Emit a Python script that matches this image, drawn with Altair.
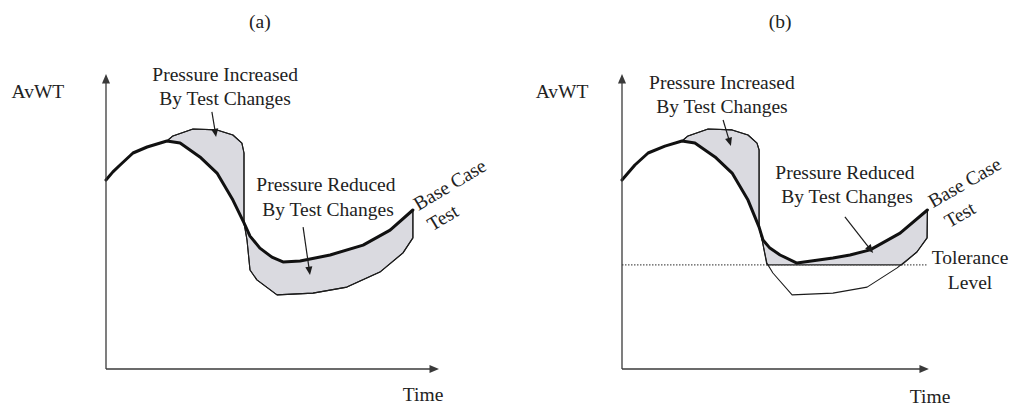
import math
import altair as alt
import pandas as pd

FONT = "Liberation Serif"
INK = "#1c1c1c"
AXIS_INK = "#3a3a3a"
SHADE = "#dadae0"
PX = 3.0  # pixels per data unit (both axes)

# ---------------- data (time units / AvWT units, origin at axes corner) -------------
# Panel (a)
BASE_A_T = [0, 2.3, 4.7, 9.0, 13.7, 17.0, 20.3, 24.7, 31.3, 37.0, 42.3, 46.0, 48.0, 51.3,
            55.3, 59.0, 64.7, 74.7, 85.7, 94.7, 102.3]
BASE_A_V = [63.0, 65.7, 68.0, 72.0, 74.0, 75.0, 76.0, 75.3, 70.7, 65.3, 56.3, 48.7, 44.3, 40.3,
            37.3, 35.7, 36.0, 38.0, 41.3, 46.3, 53.0]
TEST_A_T = [20.3, 22.3, 29.0, 37.0, 42.3, 45.3, 46.0, 46.0, 47.0, 48.0, 50.3, 57.0, 69.0, 80.3,
            91.3, 99.0, 102.3, 102.3]
TEST_A_V = [76.0, 77.7, 80.0, 79.7, 78.0, 75.3, 72.0, 48.7, 43.0, 33.0, 29.7, 24.7, 25.3, 27.3,
            32.3, 38.7, 43.7, 53.0]

# Panel (b)
BASE_B_T = [0, 4.3, 8.7, 14.3, 20.0, 24.3, 31.0, 36.7, 42.0, 45.7, 47.0, 49.3, 52.7, 58.3,
            70.3, 76.0, 82.7, 92.7, 101.8]
BASE_B_V = [63.0, 68.0, 72.0, 74.3, 76.0, 75.3, 70.7, 65.3, 56.3, 47.3, 43.0, 40.3, 38.0, 35.3,
            37.0, 38.0, 39.7, 45.3, 53.0]
TEST_B_T = [20.0, 22.0, 28.7, 36.7, 42.0, 45.0, 45.7, 45.7, 46.7, 48.3, 50.3, 56.7, 70.3, 81.7,
            91.7, 98.3, 101.7, 101.8]
TEST_B_V = [76.0, 77.7, 80.0, 79.7, 78.0, 75.3, 73.0, 47.3, 43.0, 35.3, 32.0, 24.7, 25.3, 27.3,
            33.7, 39.0, 43.7, 53.0]
SHADE_B_T = [20.0, 22.0, 28.7, 36.7, 42.0, 45.0, 45.7, 45.7, 46.7, 48.3, 93.3, 98.3, 101.7, 101.8]
SHADE_B_V = [76.0, 77.7, 80.0, 79.7, 78.0, 75.3, 73.0, 47.3, 43.0, 34.7, 34.7, 39.0, 43.7, 53.0]
TOLERANCE_V = 34.7
TOLERANCE_END_T = 101.7

# axes: (y-axis tip AvWT, x-axis tip time)
AXIS_A = (98.3, 111.0)
AXIS_B = (98.3, 102.3)

# annotation arrows: (start t, start v, tip t, tip v)
ARROWS_A = [(35.3, 85.7, 36.7, 77.3), (65.7, 47.3, 68.0, 31.3)]
ARROWS_B = [(33.7, 83.0, 36.3, 74.3), (74.3, 50.7, 83.7, 38.7)]

# labels: (text, t, v, angle)
LABELS_A = [
    ("(a)", 51.3, 115.7, 0),
    ("AvWT", -22.7, 92.3, 0),
    ("Pressure Increased", 39.7, 98.0, 0),
    ("By Test Changes", 39.7, 90.0, 0),
    ("Pressure Reduced", 73.3, 61.3, 0),
    ("By Test Changes", 74.0, 53.0, 0),
    ("Base Case", 114.7, 61.3, 329),
    ("Test", 112.3, 50.3, 329),
    ("Time", 105.7, -8.7, 0),
]
LABELS_B = [
    ("(b)", 52.7, 115.7, 0),
    ("AvWT", -20.0, 92.3, 0),
    ("Pressure Increased", 33.3, 95.3, 0),
    ("By Test Changes", 33.3, 87.3, 0),
    ("Pressure Reduced", 74.3, 65.3, 0),
    ("By Test Changes", 75.0, 57.3, 0),
    ("Base Case", 114.3, 62.0, 330),
    ("Test", 112.7, 51.3, 330),
    ("Tolerance", 116.0, 37.0, 0),
    ("Level", 116.0, 28.7, 0),
    ("Time", 102.7, -9.3, 0),
]

Y_DOMAIN = [-13.0, 123.0]
X_DOMAIN_A = [-35.333, 133.0]
X_DOMAIN_B = [-39.0, 129.667]
WIDTH_A, WIDTH_B, HEIGHT = 505, 506, 408

HEAD_PATH = "M0,-1L-0.85,1L0.85,1Z"


def series(ts, vs):
    return pd.DataFrame({"t": ts, "v": vs, "i": list(range(len(ts)))})


def arrow_frames(arrows, size):
    r_units = (size ** 0.5) / 2 / PX
    shafts, heads = [], []
    for (t0, v0, t1, v1) in arrows:
        dt, dv = t1 - t0, v1 - v0
        L = math.hypot(dt, dv)
        ut, uv = dt / L, dv / L
        ct, cv = t1 - ut * r_units, v1 - uv * r_units
        shafts.append(dict(t=t0, v=v0, t2=ct, v2=cv))
        heads.append(dict(t=ct, v=cv, ang=math.degrees(math.atan2(dt, dv)) % 360))
    return pd.DataFrame(shafts), pd.DataFrame(heads)


def panel(width, xdom, base, test, shade_poly, axis_tips, arrows, labels, tolerance=None):
    xs = alt.Scale(domain=xdom, nice=False, zero=False)
    ys = alt.Scale(domain=Y_DOMAIN, nice=False, zero=False)
    X = alt.X("t:Q", scale=xs, axis=None)
    Y = alt.Y("v:Q", scale=ys, axis=None)

    layers = []
    # shaded polygon
    layers.append(
        alt.Chart(shade_poly).mark_line(color=INK, strokeWidth=1.1, strokeJoin="round")
        .encode(x=X, y=Y, order=alt.Order("i:Q"), fill=alt.value(SHADE))
    )
    # tolerance level
    if tolerance is not None:
        tol = pd.DataFrame({"t": [0.0], "v": [tolerance[0]], "t2": [tolerance[1]]})
        layers.append(
            alt.Chart(tol).mark_rule(color="#555555", strokeWidth=1.2, strokeDash=[1.5, 1.5])
            .encode(x=X, y=Y, x2="t2:Q")
        )
    # test curve
    layers.append(
        alt.Chart(test).mark_line(color=INK, strokeWidth=1.1, strokeJoin="round")
        .encode(x=X, y=Y, order=alt.Order("i:Q"))
    )
    # base curve
    layers.append(
        alt.Chart(base).mark_line(color="#111111", strokeWidth=3.0, strokeJoin="round",
                                  strokeCap="round")
        .encode(x=X, y=Y, order=alt.Order("i:Q"))
    )
    # axes with arrowheads
    ytip, xtip = axis_tips
    ax_shafts, ax_heads = arrow_frames([(0, 0, 0, ytip), (0, 0, xtip, 0)], 90)
    layers.append(
        alt.Chart(ax_shafts).mark_rule(color=AXIS_INK, strokeWidth=1.3)
        .encode(x=X, y=Y, x2="t2:Q", y2="v2:Q")
    )
    layers.append(
        alt.Chart(ax_heads).mark_point(shape=HEAD_PATH, size=90, filled=True,
                                       color=AXIS_INK, opacity=1)
        .encode(x=X, y=Y, angle=alt.Angle("ang:Q", scale=None))
    )
    # annotation arrows
    an_shafts, an_heads = arrow_frames(arrows, 70)
    layers.append(
        alt.Chart(an_shafts).mark_rule(color=INK, strokeWidth=1.2)
        .encode(x=X, y=Y, x2="t2:Q", y2="v2:Q")
    )
    layers.append(
        alt.Chart(an_heads).mark_point(shape=HEAD_PATH, size=70, filled=True,
                                       color=INK, opacity=1)
        .encode(x=X, y=Y, angle=alt.Angle("ang:Q", scale=None))
    )
    # labels
    lab = pd.DataFrame(labels, columns=["text", "t", "v", "ang"])
    layers.append(
        alt.Chart(lab).mark_text(font=FONT, fontSize=19.5, color="#222222",
                                 align="center", baseline="middle")
        .encode(x=X, y=Y, text="text:N", angle=alt.Angle("ang:Q", scale=None))
    )
    return alt.layer(*layers).properties(width=width, height=HEIGHT)


base_a = series(BASE_A_T, BASE_A_V)
test_a = series(TEST_A_T, TEST_A_V)
# polygon: test boundary forward, then base back to the divergence point
k_a = BASE_A_T.index(TEST_A_T[0])
poly_a = series(TEST_A_T + BASE_A_T[k_a:][::-1], TEST_A_V + BASE_A_V[k_a:][::-1])

base_b = series(BASE_B_T, BASE_B_V)
test_b = series(TEST_B_T, TEST_B_V)
k_b = BASE_B_T.index(SHADE_B_T[0])
poly_b = series(SHADE_B_T + BASE_B_T[k_b:][::-1], SHADE_B_V + BASE_B_V[k_b:][::-1])

chart_a = panel(WIDTH_A, X_DOMAIN_A, base_a, test_a, poly_a, AXIS_A, ARROWS_A, LABELS_A)
chart_b = panel(WIDTH_B, X_DOMAIN_B, base_b, test_b, poly_b, AXIS_B, ARROWS_B, LABELS_B,
                tolerance=(TOLERANCE_V, TOLERANCE_END_T))

chart = (
    alt.hconcat(chart_a, chart_b, spacing=0, padding=0, background="white")
    .configure_view(strokeWidth=0, strokeOpacity=0)
)

chart.save("out.html", embed_options={"renderer": "svg", "actions": False})
